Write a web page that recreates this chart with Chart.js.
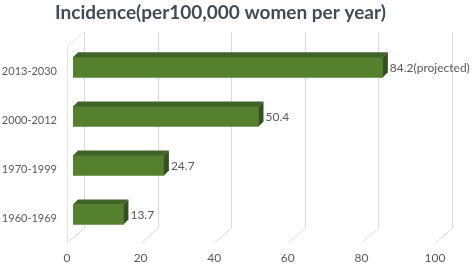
<!DOCTYPE html>
<html>
<head>
<meta charset="utf-8">
<script src="https://cdn.jsdelivr.net/npm/chart.js@4"></script>
<style>
  html, body { margin: 0; padding: 0; background: #ffffff; }
  #wrap { width: 472px; height: 266px; }
</style>
</head>
<body>
<div id="wrap"><canvas id="c" width="472" height="266"></canvas></div>
<script>
const categories = ['2013-2030', '2000-2012', '1970-1999', '1960-1969'];
const values = [84.2, 50.4, 24.7, 13.7];
const valueLabels = ['84.2(projected)', '50.4', '24.7', '13.7'];
const xTickValues = [0, 20, 40, 60, 80, 100];
const titleText = 'Incidence(per100,000 women per year)';

const DEPTH_BACK = { dx: 11, dy: 11 };
const DEPTH_FRONT = { dx: -6, dy: 4 };
const BAR_DEPTH = 5;
const textFont = 'Lato, "Open Sans", sans-serif';

const box3d = {
  id: 'box3d',
  beforeDatasetsDraw(chart) {
    const ctx = chart.ctx;
    const xs = chart.scales.x;
    const area = chart.chartArea;
    const backTop = 32, backBottom = area.bottom - DEPTH_BACK.dy;
    const frontBottom = area.bottom + DEPTH_FRONT.dy;
    ctx.save();
    ctx.strokeStyle = '#d9d9d9';
    ctx.lineWidth = 1;
    xTickValues.forEach(v => {
      const xb = Math.round(xs.getPixelForValue(v));
      ctx.beginPath();
      ctx.moveTo(xb + DEPTH_BACK.dx + 0.5, backTop);
      ctx.lineTo(xb + DEPTH_BACK.dx + 0.5, backBottom);
      ctx.lineTo(xb + DEPTH_FRONT.dx + 0.5, frontBottom);
      ctx.stroke();
    });
    const x0 = Math.round(xs.getPixelForValue(0));
    ctx.strokeStyle = '#e2e2e2';
    ctx.beginPath();
    ctx.moveTo(x0 + DEPTH_FRONT.dx + 0.5, frontBottom);
    ctx.lineTo(x0 + DEPTH_FRONT.dx + 0.5, backTop + 14);
    ctx.lineTo(x0 + DEPTH_BACK.dx + 0.5, backTop);
    ctx.stroke();
    ctx.restore();
  },
  afterDatasetsDraw(chart) {
    const ctx = chart.ctx;
    const meta = chart.getDatasetMeta(0);
    ctx.save();
    meta.data.forEach((bar, i) => {
      const p = bar.getProps(['x', 'y', 'base', 'height'], true);
      const top = p.y - p.height / 2;
      const bottom = p.y + p.height / 2;
      const left = p.base, right = p.x;
      ctx.fillStyle = '#3f6326';
      ctx.beginPath();
      ctx.moveTo(left, top);
      ctx.lineTo(left + BAR_DEPTH, top - BAR_DEPTH);
      ctx.lineTo(right + BAR_DEPTH, top - BAR_DEPTH);
      ctx.lineTo(right, top);
      ctx.closePath();
      ctx.fill();
      ctx.fillStyle = '#33511e';
      ctx.beginPath();
      ctx.moveTo(right, top);
      ctx.lineTo(right + BAR_DEPTH, top - BAR_DEPTH);
      ctx.lineTo(right + BAR_DEPTH, bottom - BAR_DEPTH);
      ctx.lineTo(right, bottom);
      ctx.closePath();
      ctx.fill();
      ctx.fillStyle = '#595959';
      ctx.font = '12px ' + textFont;
      ctx.textAlign = 'left';
      ctx.textBaseline = 'middle';
      ctx.fillText(valueLabels[i], right + 7, p.y + 1);
    });
    ctx.restore();
  }
};

new Chart(document.getElementById('c'), {
  type: 'bar',
  data: {
    labels: categories,
    datasets: [{
      data: values,
      backgroundColor: '#55812f',
      borderWidth: 0,
      barThickness: 20
    }]
  },
  options: {
    indexAxis: 'y',
    responsive: false,
    animation: false,
    devicePixelRatio: 1,
    layout: { padding: { left: 0, right: 31, top: 0, bottom: 0 } },
    plugins: {
      legend: { display: false },
      tooltip: { enabled: false },
      title: {
        display: true,
        text: titleText,
        color: '#414b57',
        font: { family: textFont, size: 19, weight: 'bold' },
        padding: { top: 1, bottom: 19 }
      }
    },
    scales: {
      x: {
        min: 0, max: 100,
        afterBuildTicks: s => { s.ticks = xTickValues.map(v => ({ value: v })); },
        grid: { display: false, drawTicks: false },
        border: { display: false },
        ticks: { color: '#595959', font: { family: textFont, size: 12 }, padding: 12, labelOffset: -6 },
        afterFit: s => { s.height = 27; }
      },
      y: {
        grid: { display: false, drawTicks: false },
        border: { display: false },
        ticks: { color: '#595959', font: { family: textFont, size: 11 }, padding: 16, labelOffset: 4 },
        afterFit: s => { s.width = 73; }
      }
    }
  },
  plugins: [box3d]
});
</script>
</body>
</html>
